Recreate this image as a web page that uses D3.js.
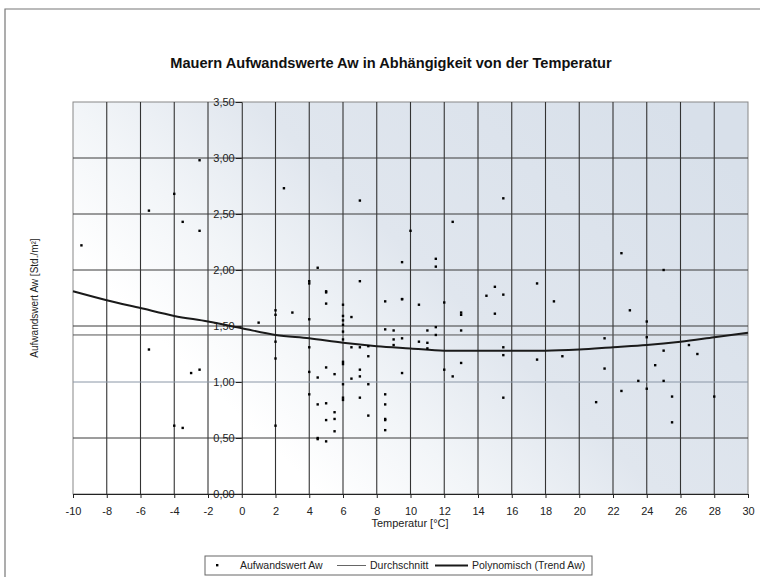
<!DOCTYPE html>
<html>
<head>
<meta charset="utf-8">
<script src="https://cdn.jsdelivr.net/npm/d3@7"></script>
<style>
	body { margin: 0; background: #fff; }
	text { font-family: "Liberation Sans", Arial, sans-serif; }
</style>
</head>
<body>
<div id="chart"></div>
<script>
// Messwerte (Temperatur °C, Aufwandswert Std./m²)
const tempValues = [
	-9.5, -5.5, -4, -2.5, -3.5, -2.5, 2.5, -5.5, -3, -2.5, -4, -3.5,
	1, 2, 2, 3, 2, 2, 2,
	7, 15.5, 12.5, 10, 4.5, 4, 4, 5, 5, 7, 9.5, 11.5, 11.5, 9.5, 14.5, 15, 15.5,
	5, 4, 4, 4, 4, 4.5, 4.5, 4.5, 4.5, 5, 5, 5, 5, 5.5, 5.5, 5.5, 5.5,
	6, 6, 6, 6, 6, 6, 6, 6, 6, 6, 6, 6.5, 6.5, 6.5, 7, 7, 7, 7,
	7.5, 7.5, 7.5, 7.5, 8.5, 8.5, 8.5, 8.5, 8.5, 8.5, 8.5, 9, 9, 9,
	9.5, 9.5, 9.5, 10.5, 10.5, 11, 11, 11, 11.5, 11.5, 12, 12, 12.5,
	13, 13, 13, 13, 15, 15.5, 15.5, 15.5,
	18.5, 17.5, 19, 21.5, 21.5, 21, 23, 22.5, 23.5, 24, 24, 24, 24.5,
	25, 25, 25.5, 25.5, 26.5, 27, 28, 17.5, 22.5, 25
]
const awValues = [
	2.22, 2.53, 2.68, 2.98, 2.43, 2.35, 2.73, 1.29, 1.08, 1.11, 0.61, 0.59,
	1.53, 1.64, 1.60, 1.62, 1.36, 1.21, 0.61,
	2.62, 2.64, 2.43, 2.35, 2.02, 1.90, 1.88, 1.81, 1.80, 1.90, 2.07, 2.10, 2.03, 1.74, 1.77, 1.85, 1.78,
	1.70, 1.56, 1.31, 1.09, 0.89, 1.04, 0.80, 0.50, 0.49, 1.13, 0.81, 0.66, 0.47, 1.07, 0.73, 0.67, 0.56,
	1.69, 1.59, 1.55, 1.51, 1.45, 1.38, 1.18, 1.16, 0.98, 0.86, 0.84, 1.58, 1.31, 1.03, 1.31, 1.11, 1.05, 0.86,
	1.32, 1.23, 0.98, 0.70, 1.72, 1.47, 0.89, 0.80, 0.67, 0.66, 0.57, 1.46, 1.38, 1.33,
	1.74, 1.39, 1.08, 1.69, 1.36, 1.46, 1.35, 1.30, 1.49, 1.42, 1.71, 1.11, 1.05,
	1.62, 1.60, 1.46, 1.17, 1.61, 1.31, 1.24, 0.86,
	1.72, 1.20, 1.23, 1.39, 1.12, 0.82, 1.64, 0.92, 1.01, 1.54, 1.40, 0.94, 1.15,
	1.28, 1.01, 0.87, 0.64, 1.33, 1.25, 0.87, 1.88, 2.15, 2.00
]
const average = 1.42

// Polynomischer Trend
const trendX = [-10, -8, -6, -4, -2, 0, 2, 4, 6, 8, 10, 12, 14, 16, 18, 20, 22, 24, 26, 28, 30]
const trendY = [1.81, 1.73, 1.66, 1.59, 1.54, 1.48, 1.42, 1.39, 1.35, 1.32, 1.30, 1.28, 1.28, 1.28, 1.28, 1.29, 1.31, 1.33, 1.36, 1.40, 1.44]

const xTicks = d3.range(-10, 31, 2)
const yTicks = [0, 0.5, 1, 1.5, 2, 2.5, 3, 3.5]

const chartTitle = "Mauern Aufwandswerte Aw in Abhängigkeit von der Temperatur"
const xLabel = "Temperatur [°C]"
const yLabel = "Aufwandswert Aw [Std./m²]"
const legendLabels = ["Aufwandswert Aw", "Durchschnitt", "Polynomisch (Trend Aw)"]

const width = 760
const height = 577
const plot = { left: 73, right: 748, top: 102, bottom: 494 }

const svg = d3.select("#chart").append("svg").attr("width", width).attr("height", height)

// outer chart frame
svg.append("path")
	.attr("d", `M 5,${height + 2} V 9 H ${width + 2}`)
	.attr("fill", "none")
	.attr("stroke", "#777")
	.attr("stroke-width", 1.2)

svg.append("text")
	.attr("x", 391)
	.attr("y", 68)
	.attr("text-anchor", "middle")
	.attr("font-size", "14.6px")
	.attr("font-weight", "bold")
	.attr("fill", "#111")
	.text(chartTitle)

const x = d3.scaleLinear().domain([-10, 30]).range([plot.left, plot.right])
const y = d3.scaleLinear().domain([0, 3.5]).range([plot.bottom, plot.top])

// scanned paper look: bluish tint top right, white towards bottom left
const grad = svg.append("defs").append("linearGradient")
	.attr("id", "bg")
	.attr("x1", "100%").attr("y1", "20%")
	.attr("x2", "0%").attr("y2", "80%")
grad.append("stop").attr("offset", "0").attr("stop-color", "#d8e0ea")
grad.append("stop").attr("offset", "0.45").attr("stop-color", "#e0e6ee")
grad.append("stop").attr("offset", "0.65").attr("stop-color", "#f2f5f8")
grad.append("stop").attr("offset", "0.82").attr("stop-color", "#ffffff")

svg.append("rect")
	.attr("x", plot.left)
	.attr("y", plot.top)
	.attr("width", plot.right - plot.left)
	.attr("height", plot.bottom - plot.top)
	.attr("fill", "url(#bg)")
	.attr("stroke", "#888")

const g = svg.append("g")

g.selectAll(".vgrid")
	.data(xTicks.filter(d => d !== -10 && d !== 30 && d !== 0))
	.enter()
	.append("line")
	.attr("x1", d => x(d)).attr("x2", d => x(d))
	.attr("y1", plot.top).attr("y2", plot.bottom)
	.attr("stroke", "#333")
	.attr("stroke-width", 1.1)

g.selectAll(".hgrid")
	.data(yTicks.filter(d => d > 0 && d < 3.5))
	.enter()
	.append("line")
	.attr("x1", plot.left).attr("x2", plot.right)
	.attr("y1", d => y(d)).attr("y2", d => y(d))
	.attr("stroke", d => (d === 1 ? "#8a96a6" : "#3a3a3a"))
	.attr("stroke-width", 1)

// average line
g.append("line")
	.attr("x1", plot.left).attr("x2", plot.right)
	.attr("y1", y(average)).attr("y2", y(average))
	.attr("stroke", "#555")
	.attr("stroke-width", 1)

// axes
const xAxis = g.append("g")
	.attr("transform", `translate(0,${plot.bottom})`)
	.call(d3.axisBottom(x).tickValues(xTicks).tickSize(4).tickPadding(9).tickFormat(d => String(d)))
xAxis.select(".domain").attr("stroke", "#222")
xAxis.selectAll(".tick line").attr("stroke", "#222")
xAxis.selectAll("text").attr("font-size", "11px").attr("fill", "#222")
	.attr("font-family", "'Liberation Sans', Arial, sans-serif")

const yAxis = g.append("g")
	.attr("transform", `translate(${x(0)},0)`)
	.call(d3.axisLeft(y).tickValues(yTicks).tickSize(6).tickPadding(1).tickFormat(d => d3.format(".2f")(d).replace(".", ",")))
yAxis.select(".domain").attr("stroke", "#222")
yAxis.selectAll(".tick line").attr("stroke", "#222")
yAxis.selectAll("text").attr("font-size", "11px").attr("fill", "#222")
	.attr("font-family", "'Liberation Sans', Arial, sans-serif")

// trend
g.append("path")
	.datum(trendX.map((t, i) => [t, trendY[i]]))
	.attr("fill", "none")
	.attr("stroke", "#1a1a1a")
	.attr("stroke-width", 2)
	.attr("d", d3.line().curve(d3.curveMonotoneX).x(d => x(d[0])).y(d => y(d[1])))

// points
g.selectAll(".pt")
	.data(tempValues.map((t, i) => [t, awValues[i]]))
	.enter()
	.append("rect")
	.attr("x", d => x(d[0]) - 1.2)
	.attr("y", d => y(d[1]) - 1.2)
	.attr("width", 2.4)
	.attr("height", 2.4)
	.attr("fill", "#000")

svg.append("text")
	.attr("x", 410)
	.attr("y", 527)
	.attr("text-anchor", "middle")
	.attr("font-size", "11px")
	.attr("fill", "#222")
	.text(xLabel)

svg.append("text")
	.attr("transform", `translate(38,${(plot.top + plot.bottom) / 2}) rotate(-90)`)
	.attr("text-anchor", "middle")
	.attr("font-size", "10px")
	.attr("fill", "#222")
	.text(yLabel)

// legend
const legend = svg.append("g")
legend.append("rect")
	.attr("x", 205).attr("y", 556)
	.attr("width", 387).attr("height", 19)
	.attr("fill", "#fff")
	.attr("stroke", "#666")

legend.append("rect").attr("x", 216).attr("y", 564).attr("width", 2.4).attr("height", 2.4).attr("fill", "#000")
legend.append("text").attr("x", 240).attr("y", 569).attr("font-size", "10.5px").attr("fill", "#222").text(legendLabels[0])
legend.append("line").attr("x1", 337).attr("x2", 366).attr("y1", 565.5).attr("y2", 565.5).attr("stroke", "#666").attr("stroke-width", 1)
legend.append("text").attr("x", 370).attr("y", 569).attr("font-size", "10.5px").attr("fill", "#222").text(legendLabels[1])
legend.append("line").attr("x1", 435).attr("x2", 468).attr("y1", 565.5).attr("y2", 565.5).attr("stroke", "#1a1a1a").attr("stroke-width", 2)
legend.append("text").attr("x", 472).attr("y", 569).attr("font-size", "10.5px").attr("fill", "#222").text(legendLabels[2])
</script>
</body>
</html>
